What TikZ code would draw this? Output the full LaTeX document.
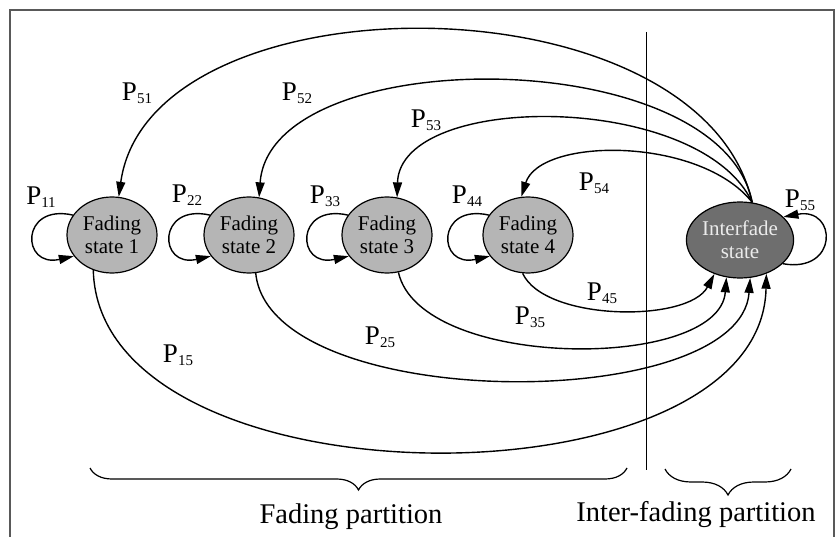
\documentclass[tikz,border=0pt]{standalone}
\usepackage{fontspec}
\setmainfont{Liberation Serif}
\usepackage{tikz}
\usetikzlibrary{arrows.meta,shapes.geometric,decorations.pathreplacing}
\usepackage{xcolor}
\definecolor{fadefill}{gray}{0.71}
\definecolor{interfill}{gray}{0.43}
\definecolor{framegray}{gray}{0.35}
\newcommand{\prob}[1]{P\raisebox{-3.5pt}{\fontsize{15}{15}\selectfont #1}}

\begin{document}
\begin{tikzpicture}[
    x=1pt, y=1pt,
    every node/.style={font=\fontsize{21}{23}\selectfont},
    fading/.style={
        ellipse, draw, line width=1.2pt, fill=fadefill,
        minimum width=90pt, minimum height=76pt, inner sep=0pt, align=center
    },
    interfade/.style={fading, fill=interfill, text=white!92!black, minimum width=94pt},
    arr/.style={-{Triangle[length=15pt,width=9pt]}, line width=1.4pt},
    lbl/.style={font=\fontsize{27}{27}\selectfont, inner sep=0pt},
    part/.style={font=\fontsize{28.5}{30}\selectfont, inner sep=0pt},
    brc/.style={decorate, decoration={brace, amplitude=#1}, line width=1.2pt}
]
\useasboundingbox (0,0) rectangle (836,-537);

% Frame and partition line
\draw[framegray, line width=1.5pt] (10,-537) -- (10,-10) -- (834,-10) -- (834,-537);
\draw[line width=1pt] (646,-32) -- (646,-470);

% States
\node[fading]    (f1)    at (112,-235) {Fading\\state 1};
\node[fading]    (f2)    at (249,-235) {Fading\\state 2};
\node[fading]    (f3)    at (387,-235) {Fading\\state 3};
\node[fading]    (f4)    at (528,-235) {Fading\\state 4};
\node[interfade] (inter) at (740,-240) {Interfade\\state};

% ── Self loops ──────────────────────────────────────────────
\foreach \n in {f1,f2,f3,f4} {
  \draw[arr] (\n.153) .. controls +(-53,12) and +(-53,-12) .. (\n.209);
}
\draw[arr] (inter.-29) .. controls +(56,-10) and +(54,10) .. (inter.28);

\node[lbl] (p11) at (41,-197)  {\prob{11}};
\node[lbl] (p22) at (187,-195) {\prob{22}};
\node[lbl] (p33) at (325,-196) {\prob{33}};
\node[lbl] (p44) at (467,-196) {\prob{44}};
\node[lbl] (p55) at (800,-200) {\prob{55}};

% ── Interfade state back to the fading states ───────────────
\draw[arr] (inter.72) .. controls +(-52,229) and +(31,223) .. (f1.80);
\draw[arr] (inter.72) .. controls +(-32,161) and +(11,156) .. (f2.75);
\draw[arr] (inter.72) .. controls +(-52,111) and +(3,106)  .. (f3.75);
\draw[arr] (inter.72) .. controls +(-52,66)  and +(19,60)  .. (f4.100);

\node[lbl] (p51) at (137,-93)  {\prob{51}};
\node[lbl] (p52) at (297,-93)  {\prob{52}};
\node[lbl] (p53) at (426,-120) {\prob{53}};
\node[lbl] (p54) at (594,-183) {\prob{54}};

% ── Fading states into the interfade state ──────────────────
\draw[arr] (f1.-118) .. controls +(6,-240) and +(-5,-238) .. (inter.-52);
\draw[arr] (f2.-80)  .. controls +(14,-141) and +(-10,-137) .. (inter.-75);
\draw[arr] (f3.-73)  .. controls +(22,-98)  and +(-7,-94)  .. (inter.-110);
\draw[arr] (f4.-98)  .. controls +(22,-48)  and +(-26,-49) .. (inter.-127);

\node[lbl] (p15) at (178,-355) {\prob{15}};
\node[lbl] (p25) at (380,-337) {\prob{25}};
\node[lbl] (p35) at (530,-317) {\prob{35}};
\node[lbl] (p45) at (602,-293) {\prob{45}};

% ── Partitions ──────────────────────────────────────────────
\draw[brc=22] (627,-468) -- (90,-468);
\draw[brc=26] (791,-469) -- (665,-469);
\node[part] (fpart) at (351,-517) {Fading partition};
\node[part] (ipart) at (696,-515) {Inter-fading partition};

\end{tikzpicture}
\end{document}
